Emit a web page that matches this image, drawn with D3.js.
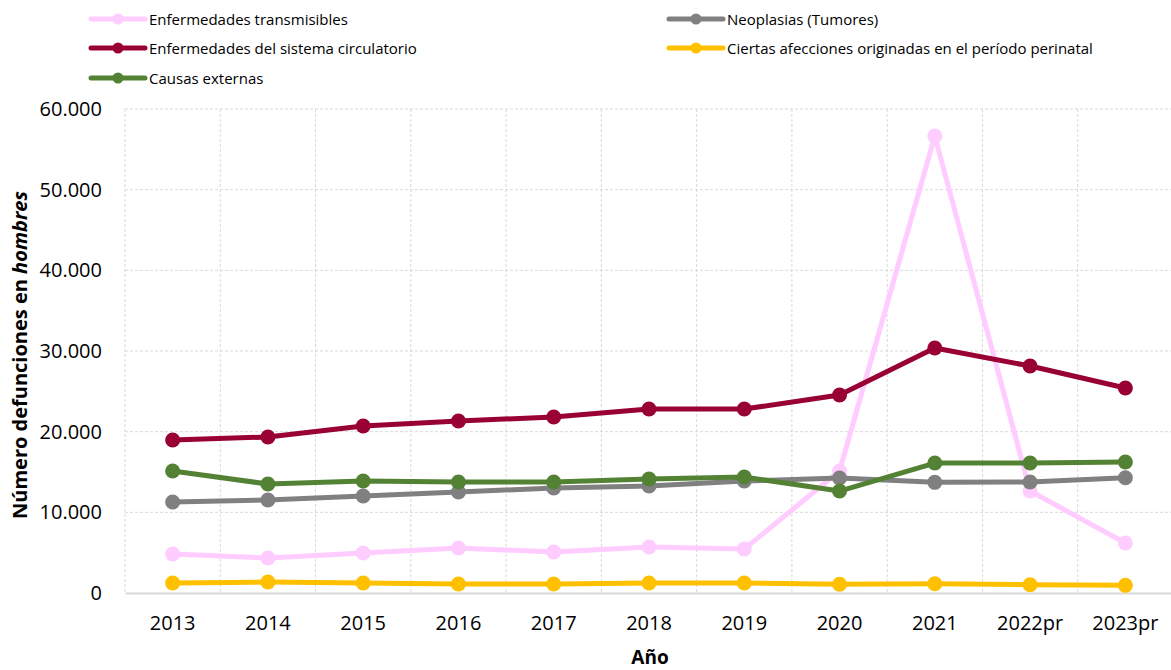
<!DOCTYPE html>
<html><head><meta charset="utf-8">
<script src="https://cdn.jsdelivr.net/npm/d3@7"></script>
<style>
body{margin:0;background:#fff;}
svg{font-family:"Open Sans","Noto Sans",sans-serif;}
</style></head>
<body><svg id="c" width="1171" height="670"></svg>
<script>
const years = ["2013","2014","2015","2016","2017","2018","2019","2020","2021","2022pr","2023pr"];
const seriesNames = ["Enfermedades transmisibles","Neoplasias (Tumores)","Enfermedades del sistema circulatorio","Ciertas afecciones originadas en el período perinatal","Causas externas"];
const transmisibles = [4830,4340,4960,5580,5080,5700,5450,15120,56650,12640,6200];
const neoplasias = [11280,11530,12020,12520,13020,13260,13880,14260,13720,13760,14290];
const circulatorio = [18970,19340,20700,21320,21820,22810,22810,24540,30370,28140,25410];
const perinatal = [1240,1360,1240,1120,1120,1240,1240,1080,1150,1030,950];
const externas = [15120,13510,13880,13760,13760,14130,14380,12640,16110,16110,16240];
const colors = ["#FFCCFF","#808080","#990033","#FFC000","#548235"];
const yTicks = [0,10000,20000,30000,40000,50000,60000];

const allSeries = [transmisibles,neoplasias,circulatorio,perinatal,externas];
const svg = d3.select("#c");
const FONT = "'Open Sans','Noto Sans',sans-serif";
const m = {left:125,right:-2,top:109,bottom:77};
const W = 1171, H = 670;
const x = d3.scaleBand().domain(years).range([m.left, W-m.right]);
const y = d3.scaleLinear().domain([0,60000]).range([H-m.bottom, m.top]);
const fmt = v => v===0 ? "0" : d3.format(",")(v).replace(/,/g,".");

// gridlines
svg.append("g").selectAll("line.h").data(yTicks.filter(t=>t>0)).join("line")
  .attr("x1",m.left).attr("x2",W).attr("y1",d=>y(d)).attr("y2",d=>y(d))
  .attr("stroke","#d9d9d9").attr("stroke-width",1).attr("stroke-dasharray","3,2");
svg.append("g").selectAll("line.v").data(years).join("line")
  .attr("x1",d=>x(d)).attr("x2",d=>x(d)).attr("y1",y(60000)).attr("y2",y(0))
  .attr("stroke","#d9d9d9").attr("stroke-width",1).attr("stroke-dasharray","3,2");

// y axis
const ya = svg.append("g").attr("transform",`translate(${m.left},0)`)
  .call(d3.axisLeft(y).tickValues(yTicks).tickFormat(fmt).tickSize(0).tickPadding(23))
  .attr("font-family",FONT);
ya.select(".domain").remove();
ya.selectAll("text").attr("font-size",20).attr("fill","#000");

// x axis
const xa = svg.append("g").attr("transform",`translate(0,${y(0)})`)
  .call(d3.axisBottom(x).tickSize(0).tickPadding(23))
  .attr("font-family",FONT);
xa.select(".domain").attr("stroke","#d9d9d9").attr("stroke-width",2);
xa.selectAll("text").attr("font-size",20).attr("fill","#000");

// series
const line = d3.line().x((d,i)=>x(years[i])+x.bandwidth()/2).y(d=>y(d));
allSeries.forEach((s,k)=>{
  const g = svg.append("g");
  g.append("path").datum(s).attr("d",line).attr("fill","none")
    .attr("stroke",colors[k]).attr("stroke-width",5).attr("stroke-linejoin","round");
  g.selectAll("circle").data(s).join("circle")
    .attr("cx",(d,i)=>x(years[i])+x.bandwidth()/2).attr("cy",d=>y(d)).attr("r",7.5)
    .attr("fill",colors[k]);
});

// legend
const legPos = [[91,19],[669,19],[91,48],[669,48],[91,78]];
seriesNames.forEach((n,k)=>{
  const [lx,ly] = legPos[k];
  const g = svg.append("g");
  g.append("line").attr("x1",lx).attr("x2",lx+54).attr("y1",ly).attr("y2",ly)
    .attr("stroke",colors[k]).attr("stroke-width",5).attr("stroke-linecap","round");
  g.append("circle").attr("cx",lx+27).attr("cy",ly).attr("r",5.5).attr("fill",colors[k]);
  g.append("text").attr("x",lx+58).attr("y",ly+5.5).attr("font-size",15).attr("fill","#000").text(n);
});

// axis titles
svg.append("text").attr("x",650).attr("y",664)
  .attr("text-anchor","middle").attr("font-size",19).attr("font-weight","bold").text("Año");
const yt = svg.append("text").attr("transform",`translate(27,355) rotate(-90)`)
  .attr("text-anchor","middle").attr("font-size",20).attr("font-weight","bold");
yt.append("tspan").text("Número defunciones en ");
yt.append("tspan").attr("font-style","italic").text("hombres");
</script></body></html>
